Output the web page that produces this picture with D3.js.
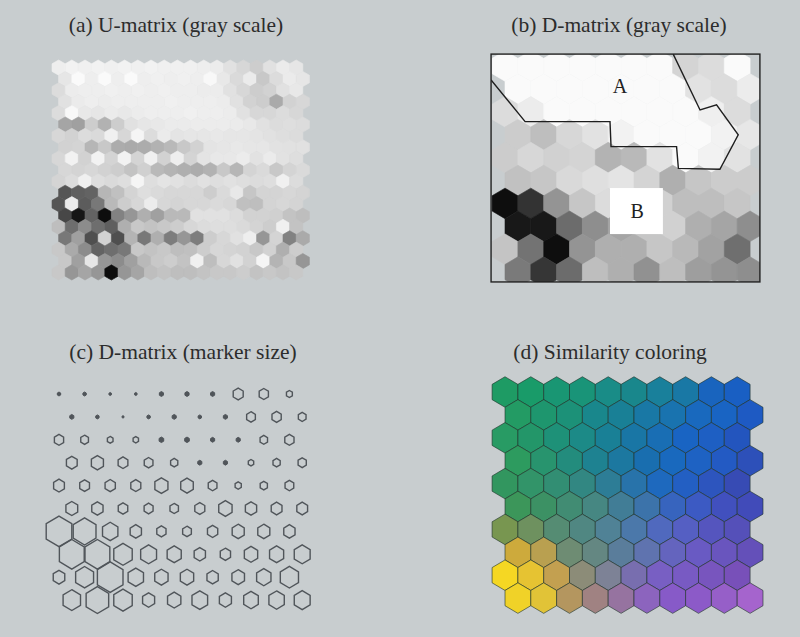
<!DOCTYPE html>
<html>
<head>
<meta charset="utf-8">
<script src="https://cdn.jsdelivr.net/npm/d3@7"></script>
<style>
  html, body { margin: 0; padding: 0; background: #c8cdcf; }
  svg { display: block; }
</style>
</head>
<body>
<svg id="fig" width="800" height="637"></svg>
<script>
// ---- panel titles ----
const titles = [
  "(a) U-matrix (gray scale)",
  "(b) D-matrix (gray scale)",
  "(c) D-matrix (marker size)",
  "(d) Similarity coloring"
];

// ---- U-matrix of the 10x10 hexagonal map (19x19 cells), distance units 0..255 ----
const uMatrix = [
  [17,13,15,13,15,13,15,13,15,15,15,17,19,30,40,50,30,20,25],
  [25,5,17,5,17,5,17,15,17,15,17,7,23,37,20,55,35,20,25],
  [35,19,17,17,15,17,15,17,15,17,17,19,19,30,40,50,45,30,23],
  [30,20,17,19,17,17,17,17,15,17,17,17,19,30,45,50,85,45,40],
  [35,7,23,25,20,23,19,17,17,17,15,17,17,19,30,40,40,35,40],
  [90,95,50,77,50,30,25,23,20,20,19,19,19,20,23,30,35,33,35],
  [40,45,35,37,15,40,10,35,20,27,25,25,23,25,25,27,30,33,35],
  [45,43,73,55,83,85,83,77,70,55,45,27,25,23,25,25,29,30,30],
  [40,13,45,13,43,13,43,15,45,17,43,27,23,23,19,29,20,29,33],
  [40,43,40,45,50,60,47,70,75,80,83,77,55,73,43,37,55,43,37],
  [43,35,15,33,37,33,10,33,27,30,35,30,33,30,33,35,33,15,35],
  [170,160,155,73,63,43,33,37,40,40,40,50,37,23,57,43,43,40,43],
  [170,20,163,135,70,50,40,19,40,43,40,40,37,40,63,65,43,40,43],
  [185,230,155,240,125,105,80,95,70,70,30,30,30,35,45,45,47,60,65],
  [65,145,115,145,160,80,55,60,55,50,40,35,33,33,37,43,50,15,60],
  [135,95,175,45,175,75,135,80,130,105,130,50,40,30,17,105,43,125,85],
  [55,85,115,155,145,135,55,60,55,65,63,50,40,43,45,55,45,80,50],
  [55,95,25,105,115,95,70,55,50,60,15,65,40,30,45,10,75,55,105],
  [55,105,90,105,245,105,90,65,60,65,65,60,55,55,50,60,55,60,55]
];

// ---- D-matrix (median distance of each unit to its neighbours), 10x10 ----
const dMatrix = [
  [0.13,0.13,0.10,0.10,0.16,0.16,0.16,0.39,0.36,0.23],
  [0.16,0.13,0.08,0.13,0.16,0.13,0.16,0.34,0.36,0.30],
  [0.36,0.30,0.22,0.21,0.18,0.18,0.16,0.16,0.29,0.36],
  [0.42,0.47,0.38,0.34,0.28,0.16,0.16,0.21,0.28,0.32],
  [0.42,0.38,0.40,0.39,0.51,0.49,0.34,0.24,0.28,0.34],
  [0.46,0.44,0.37,0.35,0.33,0.39,0.52,0.44,0.42,0.42],
  [1.00,0.89,0.60,0.44,0.36,0.34,0.40,0.47,0.47,0.44],
  [0.97,0.97,0.72,0.62,0.55,0.44,0.40,0.52,0.55,0.62],
  [0.45,0.70,1.00,0.60,0.52,0.52,0.44,0.49,0.56,0.71],
  [0.68,0.88,0.72,0.47,0.52,0.61,0.47,0.57,0.60,0.62]
];

// ---- similarity colouring of the map units, 10x10 ----
const simColors = [
  ["#1e9b64","#199b69","#199673","#199478","#198c87","#19878c","#19809b","#1978a5","#1964be","#195fc3"],
  ["#239b64","#1e966e","#1c9178","#19878c","#198096","#1978a5","#1973af","#1969be","#1964c3","#1e5ac3"],
  ["#289b64","#239669","#1e9178","#1c8a87","#198096","#1976a5","#196eb4","#1964c3","#1e5fc3","#2355be"],
  ["#2d9b5f","#28946e","#238c7d","#1e8291","#1c78a0","#196eaf","#1969be","#1e62c3","#235ac3","#2d50b9"],
  ["#32965f","#329469","#328e73","#328782","#2d7d96","#2873aa","#1e69be","#235fc3","#2d55be","#374bb4"],
  ["#3c965a","#3c9164","#418c73","#468782","#417d96","#3c73aa","#3764be","#3c5ac3","#4150be","#414bb9"],
  ["#789650","#6e915f","#558c73","#508782","#508296","#4b78aa","#5069be","#555fc3","#5555be","#5550b9"],
  ["#cdaa3c","#b9a050","#6e8c73","#648782","#5a7d9b","#5f73af","#6464be","#695ac3","#6955be","#6450b9"],
  ["#f5d723","#e6c332","#c3a050","#8c8c78","#7d8296","#786eaf","#785fc3","#785ac3","#7855be","#7850b9"],
  ["#f0d228","#e1c337","#b4965f","#a08282","#9673a0","#8c64be","#875ac8","#8c5ac8","#965fc8","#a564cd"]
];

// ---- cluster annotation on the D-matrix (map grid units) ----
const clusterEdge = [
  [-0.54,0.61],[0.78,2.43],[4.07,2.43],[4.11,3.52],[6.65,3.52],[6.72,4.47],
  [8.33,4.51],[9.04,3.01],[8.20,1.70],[7.56,1.92],[6.52,-0.52]
];
const clusterLabels = [
  { text: "A", gx: 4.46, gy: 0.87, box: null },
  { text: "B", gx: 5.12, gy: 6.33, box: [4.07, 5.33, 6.12, 7.34] }
];
const frameB = [-0.54, -0.52, 9.88, 9.43];

const svg = d3.select("#fig");

// soft rendering of the dense U-matrix cells
svg.append("defs").append("filter").attr("id", "soft")
  .attr("x", "-5%").attr("y", "-5%").attr("width", "110%").attr("height", "110%")
  .append("feGaussianBlur").attr("stdDeviation", 0.7);

// pointy-top hexagon path
function hexPath(cx, cy, hw, ry) {
  const p = d3.path();
  p.moveTo(cx, cy - ry);
  p.lineTo(cx + hw, cy - ry / 2);
  p.lineTo(cx + hw, cy + ry / 2);
  p.lineTo(cx, cy + ry);
  p.lineTo(cx - hw, cy + ry / 2);
  p.lineTo(cx - hw, cy - ry / 2);
  p.closePath();
  return p.toString();
}

function cells(matrix) {
  const out = [];
  matrix.forEach((row, r) => row.forEach((v, c) => out.push({ r, c, v })));
  return out;
}

function gridScales(n, x0, dx, y0, dy) {
  return {
    x: d3.scaleLinear().domain([0, n - 1]).range([x0, x0 + (n - 1) * dx]),
    y: d3.scaleLinear().domain([0, n - 1]).range([y0, y0 + (n - 1) * dy])
  };
}
const hx = (d) => d.c + (d.r % 2) * 0.5;

// ---- titles ----
const titlePos = [[176, 32], [619, 32], [183, 359], [610, 359]];
svg.selectAll("text.title").data(titles).join("text")
  .attr("class", "title")
  .attr("x", (d, i) => titlePos[i][0])
  .attr("y", (d, i) => titlePos[i][1])
  .attr("text-anchor", "middle")
  .attr("font-family", "'Liberation Serif', 'DejaVu Serif', serif")
  .attr("font-size", 21.5)
  .attr("fill", "#2c2c2c")
  .text(d => d);

// ---- (a) U-matrix ----
{
  const s = gridScales(19, 58.6, 13.2, 67.6, 11.38);
  const hw = (s.x(1) - s.x(0)) / 2, ry = (s.y(1) - s.y(0)) * 2 / 3;
  const shade = d3.scaleLinear().domain([0, 255]).range(["#ffffff", "#000000"]);
  svg.append("g").attr("filter", "url(#soft)")
    .selectAll("path").data(cells(uMatrix)).join("path")
    .attr("d", d => hexPath(s.x(hx(d)), s.y(d.r), hw, ry))
    .attr("fill", d => shade(d.v))
    .attr("stroke", d => shade(d.v))
    .attr("stroke-width", 0.6);
}

// ---- (b) D-matrix, gray scale ----
{
  const s = gridScales(10, 505, 25.8, 66, 22.9);
  const hw = (s.x(1) - s.x(0)) / 2, ry = (s.y(1) - s.y(0)) * 2 / 3;
  const level = d3.scaleLinear().domain([0.25, 0.5, 1.0]).range([250, 182, 14]).clamp(true);
  const gray = v => { const g = Math.round(level(v)); return d3.rgb(g, g, g).toString(); };
  const [fx0, fy0, fx1, fy1] = frameB;
  svg.append("clipPath").attr("id", "clipB").append("rect")
    .attr("x", s.x(fx0)).attr("y", s.y(fy0))
    .attr("width", s.x(fx1) - s.x(fx0)).attr("height", s.y(fy1) - s.y(fy0));
  const g = svg.append("g").attr("clip-path", "url(#clipB)");
  g.selectAll("path").data(cells(dMatrix)).join("path")
    .attr("d", d => hexPath(s.x(hx(d)), s.y(d.r), hw, ry))
    .attr("fill", d => gray(d.v))
    .attr("stroke", d => gray(d.v))
    .attr("stroke-width", 0.6);
  g.append("path")
    .attr("d", d3.line().x(p => s.x(p[0])).y(p => s.y(p[1]))(clusterEdge))
    .attr("fill", "none").attr("stroke", "#1e1e1e").attr("stroke-width", 1.4);
  clusterLabels.forEach(l => {
    if (l.box) {
      g.append("rect")
        .attr("x", s.x(l.box[0])).attr("y", s.y(l.box[1]))
        .attr("width", s.x(l.box[2]) - s.x(l.box[0]))
        .attr("height", s.y(l.box[3]) - s.y(l.box[1]))
        .attr("fill", "#ffffff");
    }
    g.append("text")
      .attr("x", s.x(l.gx)).attr("y", s.y(l.gy))
      .attr("dy", "0.35em").attr("text-anchor", "middle")
      .attr("font-family", "'Liberation Serif', 'DejaVu Serif', serif")
      .attr("font-size", 20).attr("fill", "#222")
      .text(l.text);
  });
  svg.append("rect")
    .attr("x", s.x(fx0)).attr("y", s.y(fy0))
    .attr("width", s.x(fx1) - s.x(fx0)).attr("height", s.y(fy1) - s.y(fy0))
    .attr("fill", "none").attr("stroke", "#222").attr("stroke-width", 1.4);
}

// ---- (c) D-matrix, marker size ----
{
  const s = gridScales(10, 59, 25.6, 394, 22.9);
  const half = d3.scaleLinear().domain([0, 1]).range([0, (s.x(1) - s.x(0)) / 2]);
  const vr = d3.scaleLinear().domain([0, 1]).range([0, (s.y(1) - s.y(0)) * 2 / 3]);
  const ink = "#50555a";
  svg.append("g").selectAll("path").data(cells(dMatrix)).join("path")
    .attr("d", d => hexPath(s.x(hx(d)), s.y(d.r), half(d.v), vr(d.v)))
    // the smallest markers close up into solid dots
    .attr("fill", d => d.v < 0.2 ? ink : "none")
    .attr("stroke", ink)
    .attr("stroke-width", d => d.v < 0.2 ? 1.0 : 1.4);
}

// ---- (d) similarity colouring ----
{
  const s = gridScales(10, 505, 25.8, 392, 22.9);
  const hw = (s.x(1) - s.x(0)) / 2, ry = (s.y(1) - s.y(0)) * 2 / 3;
  svg.append("g").selectAll("path").data(cells(simColors)).join("path")
    .attr("d", d => hexPath(s.x(hx(d)), s.y(d.r), hw, ry))
    .attr("fill", d => d.v)
    .attr("stroke", "rgba(30,50,40,0.6)")
    .attr("stroke-width", 1);
}
</script>
</body>
</html>
